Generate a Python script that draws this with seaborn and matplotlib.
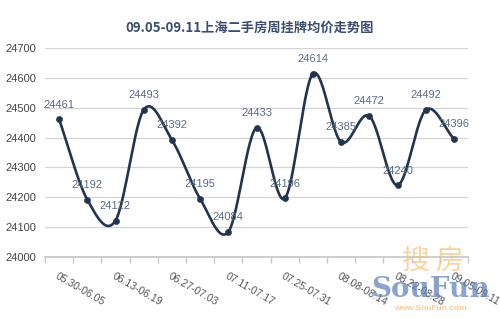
import numpy as np
import pandas as pd
import seaborn as sns
import matplotlib.pyplot as plt

weeks = ["05.30-06.05", "06.06-06.12", "06.13-06.19", "06.20-06.26", "06.27-07.03",
         "07.04-07.10", "07.11-07.17", "07.18-07.24", "07.25-07.31", "08.01-08.07",
         "08.08-08.14", "08.15-08.21", "08.22-08.28", "08.29-09.04", "09.05-09.11"]
prices = [24461, 24192, 24122, 24493, 24392, 24195, 24084, 24433,
          24196, 24614, 24385, 24472, 24240, 24492, 24396]

sns.set_theme(style="white")
plt.rcParams['font.family'] = ['Liberation Sans', 'Noto Sans CJK SC', 'DejaVu Sans']

df = pd.DataFrame({"idx": np.arange(len(weeks)), "week": weeks, "price": prices})


# 平滑曲线（Catmull-Rom），只用于画线的形状
def smooth(x, y, n=30):
    x = np.asarray(x, float)
    y = np.asarray(y, float)
    px = np.concatenate([[2 * x[0] - x[1]], x, [2 * x[-1] - x[-2]]])
    py = np.concatenate([[2 * y[0] - y[1]], y, [2 * y[-1] - y[-2]]])
    xs, ys = [], []
    for i in range(1, len(px) - 2):
        t = np.linspace(0, 1, n, endpoint=False)
        for p, out in ((px, xs), (py, ys)):
            p0, p1, p2, p3 = p[i - 1], p[i], p[i + 1], p[i + 2]
            out.extend(0.5 * (2 * p1 + (-p0 + p2) * t
                              + (2 * p0 - 5 * p1 + 4 * p2 - p3) * t ** 2
                              + (-p0 + 3 * p1 - 3 * p2 + p3) * t ** 3))
    xs.append(x[-1])
    ys.append(y[-1])
    return pd.DataFrame({"x": xs, "y": ys})


curve = smooth(df["idx"], df["price"])

fig = plt.figure(figsize=(5, 3.18), dpi=100)
ax = fig.add_axes([0.09, 0.192, 0.846, 0.657])

line_color = "#22344f"
sns.lineplot(data=curve, x="x", y="y", ax=ax, color=line_color, linewidth=1.9, sort=False)
sns.scatterplot(data=df, x="idx", y="price", ax=ax, color=line_color, s=20,
                edgecolor=line_color, zorder=3)

for i, v in zip(df["idx"], df["price"]):
    ax.annotate(str(v), (i, v), xytext=(0, 7), textcoords="offset points",
                ha="center", va="bottom", fontsize=8, color="#5a6b85")

ax.set_xlim(-0.5, len(weeks) - 0.5)
ax.set_ylim(24000, 24700)
ax.set_yticks(range(24000, 24701, 100))
ax.yaxis.grid(True, color="#d4d4d4", linewidth=0.9)
ax.tick_params(axis="y", labelsize=8, labelcolor="#444444", length=0, pad=6)

ax.set_xticks(df["idx"][::2])
ax.set_xticklabels(df["week"][::2], rotation=-30, ha="left", rotation_mode="anchor",
                   fontsize=7.5, color="#555555")
ax.set_xticks(np.arange(-0.5, len(weeks), 1), minor=True)
ax.tick_params(axis="x", which="major", length=0, pad=10)
ax.tick_params(axis="x", which="minor", length=4, color="#c8c8c8", bottom=True)

for s in ["top", "right", "left"]:
    ax.spines[s].set_visible(False)
ax.spines["bottom"].set_color("#c8c8c8")
ax.set_xlabel("")
ax.set_ylabel("")

fig.text(0.5, 0.912, "09.05-09.11上海二手房周挂牌均价走势图", ha="center", va="center",
         fontsize=9.5, fontweight="bold", color="#3b4d6e",
         family=['Noto Sans CJK SC', 'DejaVu Sans'])

# 水印
fig.text(0.865, 0.18, "搜 房", ha="center", va="center", fontsize=20, color="#f2c27a",
         alpha=0.7, family=['Noto Sans CJK SC', 'DejaVu Sans'])
fig.text(0.86, 0.09, "SouFun", ha="center", va="center", fontsize=20, fontweight="bold",
         color="#5a7db5", alpha=0.7, family="DejaVu Serif")
fig.text(0.86, 0.03, "www.SouFun.com", ha="center", va="center", fontsize=6,
         fontweight="bold", color="#f2c27a", alpha=0.8)

fig.savefig("out.png", dpi=100, facecolor="white")
